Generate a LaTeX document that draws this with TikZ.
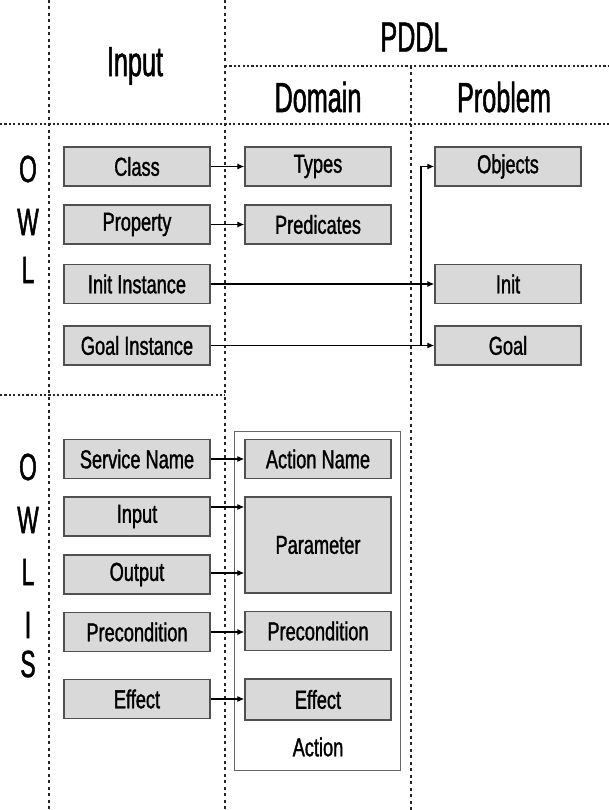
\documentclass[tikz,border=0pt]{standalone}
\usepackage{fontspec}
\setmainfont{Liberation Sans}
\newfontfamily\hdrfont[FakeStretch=0.6,FakeBold=1.2]{Liberation Sans}
\newfontfamily\boxfont[FakeStretch=0.7,FakeBold=1.2]{Liberation Sans}
\usetikzlibrary{arrows.meta}
\definecolor{boxfill}{HTML}{D9D9D9}
\definecolor{boxline}{HTML}{505050}
\tikzset{
  sep/.style={line width=2.6pt, black!85, dash pattern=on 3pt off 3.5pt},
  hsep/.style={line width=2.6pt, black!85, dash pattern=on 2.2pt off 2.2pt},
  card/.style={draw=boxline, line width=1.3pt, fill=boxfill, minimum width=146pt, minimum height=39pt, inner sep=0pt, font=\boxfont\fontsize{26}{28}\selectfont},
  hdr/.style={font=\hdrfont\fontsize{42}{44}\selectfont, inner sep=0pt},
  letter/.style={font=\hdrfont\fontsize{38}{40}\selectfont, inner sep=0pt},
  arr/.style={line width=1.2pt, -{Latex[length=7pt,width=6pt]}},
  lbl/.style={font=\boxfont\fontsize{26}{28}\selectfont, inner sep=0pt}
}
\begin{document}
\begin{tikzpicture}[x=1pt,y=-1pt]
\useasboundingbox[fill=white] (0,0) rectangle (609,810);
% separators
\coordinate (v1t) at (49,0);   \coordinate (v1b) at (49,810);
\coordinate (v2t) at (225,0);  \coordinate (v2b) at (225,810);
\coordinate (v3t) at (411,66); \coordinate (v3b) at (411,810);
\coordinate (h1l) at (225,66); \coordinate (h1r) at (609,66);
\coordinate (h2l) at (0,124);  \coordinate (h2r) at (609,124);
\coordinate (h3l) at (0,395);  \coordinate (h3r) at (225,395);
\draw[sep] (v1t) -- (v1b);
\draw[sep] (v2t) -- (v2b);
\draw[sep] (v3t) -- (v3b);
\draw[hsep] (h1l) -- (h1r);
\draw[hsep] (h2l) -- (h2r);
\draw[hsep] (h3l) -- (h3r);
% headers
\node[hdr] (hin) at (135,66) {Input};
\node[hdr] (hpddl) at (414,37) {PDDL};
\node[hdr] (hdom) at (318,97) {Domain};
\node[hdr] (hprob) at (504,97) {Problem};
% OWL letters
\node[letter] (o1) at (28,169) {O};
\node[letter] (w1) at (28,222) {W};
\node[letter] (l1) at (28,270) {L};
\node[letter] (o2) at (28,467) {O};
\node[letter] (w2) at (28,520) {W};
\node[letter] (l2) at (28,572) {L};
\node[letter] (i2) at (28,625) {I};
\node[letter] (s2) at (28,664) {S};
% action container
\node[draw=black!60, line width=0.8pt, minimum width=166pt, minimum height=339pt, inner sep=0pt] (actbox) at (317,600.5) {};
\node[lbl] (actlbl) at (318,747) {Action};
% OWL boxes
\node[card] (cls) at (137,166.5) {Class};
\node[card] (typ) at (318,166.5) {Types};
\node[card] (obj) at (508,166.5) {Objects};
\node[card] (prop) at (137,224.5) {Property};
\node[card] (pred) at (318,224.5) {Predicates};
\node[card] (iinst) at (137,284) {Init Instance};
\node[card] (init) at (508,284) {Init};
\node[card] (ginst) at (137,345.5) {Goal Instance};
\node[card] (goal) at (508,345.5) {Goal};
% OWL-S boxes
\node[card] (svc) at (137,459) {Service Name};
\node[card] (actn) at (318,459) {Action Name};
\node[card] (inp) at (137,516.5) {Input};
\node[card, minimum height=96pt] (par) at (318,545) {Parameter};
\node[card] (outp) at (137,574.5) {Output};
\node[card] (pre1) at (137,632) {Precondition};
\node[card] (pre2) at (318,631) {Precondition};
\node[card] (eff1) at (137,699) {Effect};
\node[card, minimum height=41pt] (eff2) at (318,699.5) {Effect};
% arrows
\draw[arr] (cls.east) -- (typ.west);
\draw[arr] (prop.east) -- (pred.west);
\draw[arr] (iinst.east) -- (init.west);
\draw[arr] (ginst.east) -- (goal.west);
\coordinate (br) at (421,345.5);
\draw[arr] (br) |- (obj.west);
\draw[arr] (svc.east) -- (actn.west);
\draw[arr] ([yshift=9.5pt]inp.east) -- ([yshift=9.5pt]inp.east -| par.west);
\draw[arr] ([yshift=1.5pt]outp.east) -- ([yshift=1.5pt]outp.east -| par.west);
\draw[arr] (pre1.east) -- (pre1.east -| pre2.west);
\draw[arr] (eff1.east) -- (eff1.east -| eff2.west);
\end{tikzpicture}
\end{document}
